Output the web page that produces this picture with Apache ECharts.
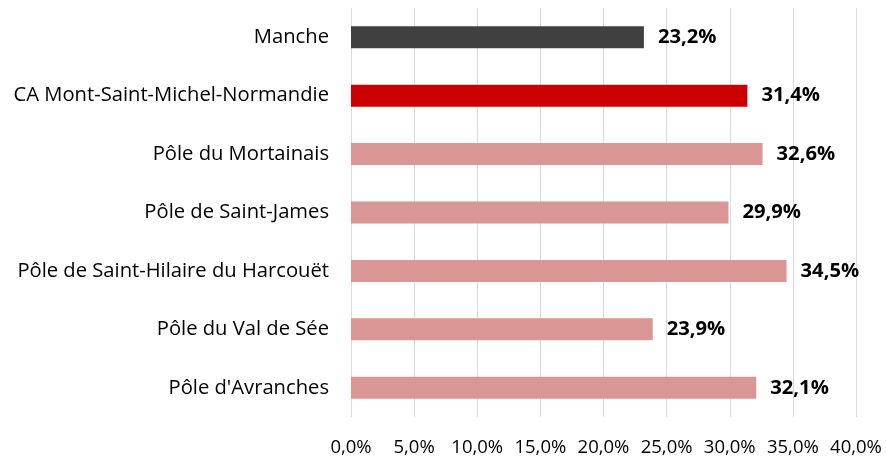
<!DOCTYPE html>
<html><head><meta charset="utf-8">
<script src="https://cdn.jsdelivr.net/npm/echarts@6/dist/echarts.min.js"></script>
<style>html,body{margin:0;padding:0;background:#fff}#c{width:886px;height:457px}</style>
</head><body><div id="c"></div>
<script>
const categories = ["Manche","CA Mont-Saint-Michel-Normandie","Pôle du Mortainais","Pôle de Saint-James","Pôle de Saint-Hilaire du Harcouët","Pôle du Val de Sée","Pôle d'Avranches"];
const values = [23.2, 31.4, 32.6, 29.9, 34.5, 23.9, 32.1];
const barColors = ["#404040","#CC0000","#DA9694","#DA9694","#DA9694","#DA9694","#DA9694"];
const fmt = v => v.toFixed(1).replace('.', ',') + '%';
const font = '"Open Sans", sans-serif';
const chart = echarts.init(document.getElementById('c'), null, {renderer:'canvas'});
chart.setOption({
  animation:false,
  grid:{left:351,right:30,top:8,bottom:40,containLabel:false},
  xAxis:{type:'value',min:0,max:40,interval:5,
    axisLine:{show:false},axisTick:{show:false},
    splitLine:{lineStyle:{color:'#D9D9D9',width:1}},
    axisLabel:{formatter:fmt,color:'#000',fontSize:18.5,fontFamily:font,margin:21}},
  yAxis:{type:'category',data:categories,inverse:true,
    axisLine:{show:false},axisTick:{show:false},
    axisLabel:{color:'#000',fontSize:20.2,fontFamily:font,margin:22,padding:[5,0,0,0]}},
  series:[{type:'bar',barWidth:22,
    data:values.map((v,i)=>({value:v,itemStyle:{color:barColors[i]}})),
    label:{show:true,position:'right',distance:14,formatter:p=>fmt(p.value),
      color:'#000',fontWeight:'bold',fontSize:20.2,fontFamily:font,padding:[5,0,0,0]}}]
});
</script></body></html>
